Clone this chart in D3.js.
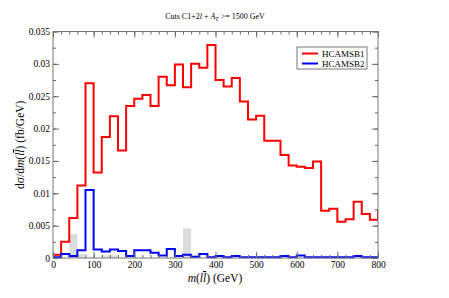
<!DOCTYPE html>
<html>
<head>
<meta charset="utf-8">
<script src="https://cdn.jsdelivr.net/npm/d3@7"></script>
<style>
    body { margin: 0; background: #fff; }
    svg { display: block; }
    text { font-family: "Liberation Serif", "DejaVu Serif", serif; fill: #000; }
</style>
</head>
<body>
<svg id="chart" width="449" height="298"></svg>
<script>
'use strict';

// bin edges: 20 GeV wide, starting at 0
var BIN_WIDTH = 20;

// HCAMSB1 (last bin 800-820 lies outside the frame and is clipped)
var hcamsb1 = [
    0.0005, 0.0025, 0.0062, 0.0112, 0.0270, 0.0132, 0.0187, 0.0219, 0.0166, 0.0235,
    0.0246, 0.0252, 0.0235, 0.0280, 0.0267, 0.0299, 0.0264, 0.0300, 0.0294, 0.0329,
    0.0275, 0.0265, 0.0278, 0.0242, 0.0214, 0.0220, 0.0181, 0.0181, 0.0159, 0.0143,
    0.0141, 0.0139, 0.0149, 0.0073, 0.0076, 0.0056, 0.0060, 0.0087, 0.0068, 0.0059,
    0.0074
];

var hcamsb2 = [
    0.0001, 0.0006, 0.0003, 0.0012, 0.0105, 0.0013, 0.0010, 0.0013, 0.0011, 0.0003,
    0.0012, 0.0012, 0.0008, 0.0004, 0.0014, 0.0003, 0.0005, 0.0002, 0.0006, 0.0001,
    0.0003, 0.0001, 0.0003, 0.0001, 0.0001, 0.0001, 0.0001, 0.0001, 0.0003, 0.0001,
    0.0004, 0.0001, 0.0001, 0.0001, 0.0001, 0.0001, 0.0001, 0.0003, 0.0001, 0.0001
];

// faint grey background histogram
var background = [
    0, 0, 0.0037, 0.0006, 0, 0, 0.0004, 0.0004, 0, 0,
    0, 0, 0, 0, 0, 0, 0.0046, 0.0003, 0, 0
];

var xTicks = [0, 100, 200, 300, 400, 500, 600, 700, 800];
var yTicks = [0, 0.005, 0.01, 0.015, 0.02, 0.025, 0.03, 0.035];
var yTickLabels = ["0", "0.005", "0.01", "0.015", "0.02", "0.025", "0.03", "0.035"];

var series = [
    {name: "HCAMSB1", values: hcamsb1, color: "#ff0000"},
    {name: "HCAMSB2", values: hcamsb2, color: "#0000ff"}
];

var svg = d3.select("#chart");
var margin = {left: 53, right: 71, top: 31.5, bottom: 40};
var width = 449 - margin.left - margin.right;
var height = 298 - margin.top - margin.bottom;

var x = d3.scaleLinear().domain([0, 800]).range([0, width]);
var y = d3.scaleLinear().domain([0, 0.035]).range([height, 0]);

var g = svg.append("g")
    .attr("transform", "translate(" + margin.left + "," + margin.top + ")");

g.append("clipPath").attr("id", "clip")
    .append("rect")
    .attr("x", 0).attr("y", -10)
    .attr("width", width).attr("height", height + 20);

// grey bars
var bgBins = background.map(function (v, i) {
    return {bin: i, value: v};
}).filter(function (d) {
    return d.value > 0;
});

g.append("g").selectAll("rect")
    .data(bgBins)
    .enter().append("rect")
    .attr("x", function (d) { return x(d.bin * BIN_WIDTH); })
    .attr("width", x(BIN_WIDTH) - x(0))
    .attr("y", function (d) { return y(d.value); })
    .attr("height", function (d) { return y(0) - y(d.value); })
    .style("fill", "#dcdcdc");

function stepPoints(values) {
    var pts = [];
    values.forEach(function (v, i) {
        pts.push([i * BIN_WIDTH, v]);
        pts.push([(i + 1) * BIN_WIDTH, v]);
    });
    return pts;
}

var line = d3.line()
    .x(function (d) { return x(d[0]); })
    .y(function (d) { return y(d[1]); });

var gLines = g.append("g").attr("clip-path", "url(#clip)");
series.forEach(function (s) {
    gLines.append("path")
        .attr("d", line(stepPoints(s.values)))
        .style("fill", "none")
        .style("stroke", s.color)
        .style("stroke-width", 2)
        .style("stroke-linejoin", "miter");
});

// axes with inward ticks on all four sides
var xMinor = d3.range(0, 801, 20);
var yMinor = d3.range(0, 0.0351, 0.0025);

function drawAxis(axis, transform) {
    var a = g.append("g").attr("transform", transform).call(axis);
    a.attr("font-family", null);
    a.select(".domain").remove();
    a.selectAll("line").style("stroke", "#666");
    return a;
}

var bottom = drawAxis(d3.axisBottom(x).tickValues(xTicks).tickSize(-6).tickPadding(3)
    .tickFormat(function (d) { return d; }), "translate(0," + height + ")");
drawAxis(d3.axisBottom(x).tickValues(xMinor).tickSize(-3).tickFormat(""), "translate(0," + height + ")");
drawAxis(d3.axisTop(x).tickValues(xTicks).tickSize(-6).tickFormat(""), "translate(0,0)");
drawAxis(d3.axisTop(x).tickValues(xMinor).tickSize(-3).tickFormat(""), "translate(0,0)");

var left = drawAxis(d3.axisLeft(y).tickValues(yTicks).tickSize(-6).tickPadding(3)
    .tickFormat(function (d, i) { return yTickLabels[i]; }), "translate(0,0)");
drawAxis(d3.axisLeft(y).tickValues(yMinor).tickSize(-3).tickFormat(""), "translate(0,0)");
drawAxis(d3.axisRight(y).tickValues(yTicks).tickSize(-6).tickFormat(""), "translate(" + width + ",0)");
drawAxis(d3.axisRight(y).tickValues(yMinor).tickSize(-3).tickFormat(""), "translate(" + width + ",0)");

bottom.selectAll("text").style("font-size", "9.5px").style("font-family", "'Liberation Serif', serif");
left.selectAll("text").style("font-size", "9.5px").style("font-family", "'Liberation Serif', serif");

g.append("rect")
    .attr("width", width).attr("height", height)
    .style("fill", "none").style("stroke", "#777").style("stroke-width", 1);

// title
var title = svg.append("text")
    .attr("x", 215).attr("y", 19)
    .attr("text-anchor", "middle")
    .style("font-size", "8px");
title.append("tspan").text("Cuts C1+2");
title.append("tspan").style("font-style", "italic").text("l");
title.append("tspan").text(" + ");
title.append("tspan").style("font-style", "italic").text("A");
title.append("tspan").style("font-style", "italic").style("font-size", "6px").attr("dy", 2).text("T");
title.append("tspan").attr("dy", -2).text(" >= 1500 GeV");

// pair label m(l l-bar)
function massLabel(sel, pre, post) {
    if (pre) sel.append("tspan").text(pre);
    sel.append("tspan").style("font-style", "italic").text("m");
    sel.append("tspan").text("(");
    sel.append("tspan").style("font-style", "italic").text("l");
    sel.append("tspan").style("font-style", "italic").style("text-decoration", "overline").text("l");
    sel.append("tspan").text(")" + post);
}

var xl = svg.append("text")
    .attr("x", 215).attr("y", 282)
    .attr("text-anchor", "middle")
    .style("font-size", "11.5px");
massLabel(xl, null, " (GeV)");

var yl = svg.append("text")
    .attr("transform", "translate(24," + (margin.top + height / 2) + ") rotate(-90)")
    .attr("text-anchor", "middle")
    .style("font-size", "11.5px");
massLabel(yl, "d\u03c3/d", " (fb/GeV)");

// legend
var legend = svg.append("g").attr("transform", "translate(297,47)");
legend.append("rect")
    .attr("width", 70).attr("height", 22)
    .style("fill", "#fff").style("stroke", "#777").style("stroke-width", 1);
series.forEach(function (s, i) {
    var row = legend.append("g").attr("transform", "translate(0," + (6.5 + i * 10) + ")");
    row.append("line")
        .attr("x1", 5).attr("x2", 21)
        .style("stroke", s.color).style("stroke-width", 2);
    row.append("text")
        .attr("x", 25).attr("y", 3.3)
        .style("font-size", "9px")
        .text(s.name);
});
</script>
</body>
</html>
